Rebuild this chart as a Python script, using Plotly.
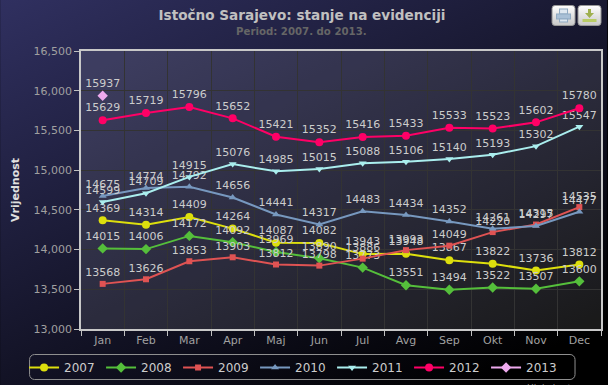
import base64
import plotly.graph_objects as go

months = ["Jan", "Feb", "Mar", "Apr", "Maj", "Jun", "Jul", "Avg", "Sep", "Okt", "Nov", "Dec"]
y2007 = [14369, 14314, 14409, 14264, 14087, 14082, 13943, 13948, 13867, 13822, 13736, 13812]
y2008 = [14015, 14006, 14172, 14092, 13969, 13890, 13773, 13551, 13494, 13522, 13507, 13600]
y2009 = [13568, 13626, 13853, 13903, 13812, 13798, 13886, 13993, 14049, 14220, 14315, 14535]
y2010 = [14675, 14774, 14792, 14656, 14441, 14317, 14483, 14434, 14352, 14261, 14297, 14477]
y2011 = [14599, 14709, 14915, 15076, 14985, 15015, 15088, 15106, 15140, 15193, 15302, 15547]
y2012 = [15629, 15719, 15796, 15652, 15421, 15352, 15416, 15433, 15533, 15523, 15602, 15780]
y2013 = [15937] + [None] * 11

series = [
    ("2007", y2007, "#DDDF0D", "circle", 8),
    ("2008", y2008, "#55BF3B", "diamond", 8),
    ("2009", y2009, "#DF5353", "square", 6),
    ("2010", y2010, "#7798BF", "triangle-up", 7),
    ("2011", y2011, "#aaeeee", "triangle-down", 7),
    ("2012", y2012, "#ff0066", "circle", 8),
    ("2013", y2013, "#eeaaee", "diamond", 8),
]

W, H = 608, 385
L, R, T, B = 81, 601.5, 51, 329
PW, PH = R - L, B - T


def button(x, body):
    return (
        f'<g transform="translate({x},5)">'
        '<rect x="0.5" y="0.5" width="23" height="20" rx="3" fill="url(#btn)" stroke="#999"/>'
        f'{body}</g>'
    )


printer = (
    '<rect x="8" y="4" width="8" height="5" fill="#dfe8f0" stroke="#8fa9c2"/>'
    '<rect x="5" y="9" width="14" height="5" fill="#a9c0d6" stroke="#8fa9c2"/>'
    '<rect x="8" y="14" width="8" height="3" fill="#dfe8f0" stroke="#8fa9c2"/>'
)
download = (
    '<path d="M10.5 4h3v4h3l-4.5 5-4.5-5h3z" fill="#9fb050"/>'
    '<rect x="5" y="14" width="14" height="3" fill="#b9cc66"/>'
)

svg = f'''<svg xmlns="http://www.w3.org/2000/svg" width="{W}" height="{H}" viewBox="0 0 {W} {H}">
<defs>
<linearGradient id="bg" gradientUnits="userSpaceOnUse" x1="0" y1="0" x2="250" y2="500">
<stop offset="0" stop-color="rgb(48,48,96)"/><stop offset="1" stop-color="rgb(0,0,0)"/>
</linearGradient>
<linearGradient id="btn" x1="0" y1="0" x2="0" y2="1">
<stop offset="0" stop-color="#ffffff"/><stop offset="1" stop-color="#c8c8c8"/>
</linearGradient>
</defs>
<rect width="{W}" height="{H}" fill="url(#bg)"/>
<rect x="{L}" y="{T}" width="{PW}" height="{PH}" fill="#ffffff" fill-opacity="0.1"/>
<rect x="29.5" y="354.5" width="546" height="25" rx="5" fill="none" stroke="#909090" stroke-width="1"/>
{button(552, printer)}
{button(578, download)}
</svg>'''
uri = "data:image/svg+xml;base64," + base64.b64encode(svg.encode()).decode()

fig = go.Figure()
for name, vals, color, symbol, size in series:
    fig.add_trace(go.Scatter(
        x=months, y=vals, name=name,
        mode="lines+markers+text",
        text=[None if v is None else str(v) for v in vals],
        textposition="top center",
        textfont=dict(family="DejaVu Sans", size=11, color="#CCCCCC"),
        line=dict(color=color, width=2),
        marker=dict(color=color, symbol=symbol, size=size),
        cliponaxis=False,
    ))

FONT = "DejaVu Sans"
fig.update_layout(
    width=W, height=H,
    margin=dict(l=L, r=W - R, t=T, b=H - B, pad=0, autoexpand=False),
    paper_bgcolor="rgba(0,0,0,0)",
    plot_bgcolor="rgba(0,0,0,0)",
    font=dict(family=FONT, size=11, color="#A0A0A0"),
    title=dict(
        text="<b>Istočno Sarajevo: stanje na evidenciji</b>",
        x=302 / W, xanchor="center", xref="container",
        y=1 - 15 / H, yanchor="middle", yref="container",
        font=dict(family=FONT, size=13.6, color="#C0C0C0"),
    ),
    annotations=[
        dict(text="<b>Period: 2007. do 2013.</b>", xref="paper", yref="paper",
             x=(302 - L) / PW, y=1 + (51 - 31) / PH, xanchor="center", yanchor="middle",
             showarrow=False, font=dict(family=FONT, size=10.2, color="#666666")),
        dict(text="Highcharts.com", xref="paper", yref="paper",
             x=(600 - L) / PW, y=1 - (381 - T) / PH, xanchor="right", yanchor="top",
             showarrow=False, font=dict(family=FONT, size=9, color="#909090")),
    ],
    xaxis=dict(
        type="category", categoryorder="array", categoryarray=months,
        range=[-0.5, 11.5], tickson="boundaries",
        showgrid=True, gridcolor="#333333", gridwidth=1,
        showline=True, linecolor="#C8C8C8", linewidth=1.5, mirror=True,
        ticks="outside", ticklen=5, tickcolor="#C0C0C0",
        tickfont=dict(family=FONT, size=11, color="#A0A0A0"),
        zeroline=False,
    ),
    yaxis=dict(
        range=[13000, 16500], tickvals=[13000, 13500, 14000, 14500, 15000, 15500, 16000, 16500],
        tickformat=",", showgrid=True, gridcolor="#333333", gridwidth=1,
        showline=True, linecolor="#C8C8C8", linewidth=1.5, mirror=True,
        ticks="outside", ticklen=5, tickcolor="#C0C0C0",
        tickfont=dict(family=FONT, size=11, color="#A0A0A0"),
        title=dict(text="<b>Vrijednost</b>", standoff=12,
                   font=dict(family=FONT, size=11, color="#E0E0E0")),
        zeroline=False,
    ),
    legend=dict(
        orientation="h", xref="paper", yref="paper",
        x=(24 - L) / PW, y=-(353 - B) / PH, xanchor="left", yanchor="top",
        entrywidth=32, entrywidthmode="pixels",
        font=dict(family=FONT, size=12, color="#CCCCCC"),
        bgcolor="rgba(0,0,0,0)", borderwidth=0, itemwidth=30,
        traceorder="normal",
    ),
    images=[dict(source=uri, xref="paper", yref="paper",
                 x=-L / PW, y=1 + T / PH, sizex=W / PW, sizey=H / PH,
                 xanchor="left", yanchor="top", sizing="stretch", layer="below")],
)

fig.write_html(
    "out.html",
    config=dict(displayModeBar=False),
    post_script="document.body.style.margin='0';document.body.style.overflow='hidden';document.body.style.background='#000';",
)
